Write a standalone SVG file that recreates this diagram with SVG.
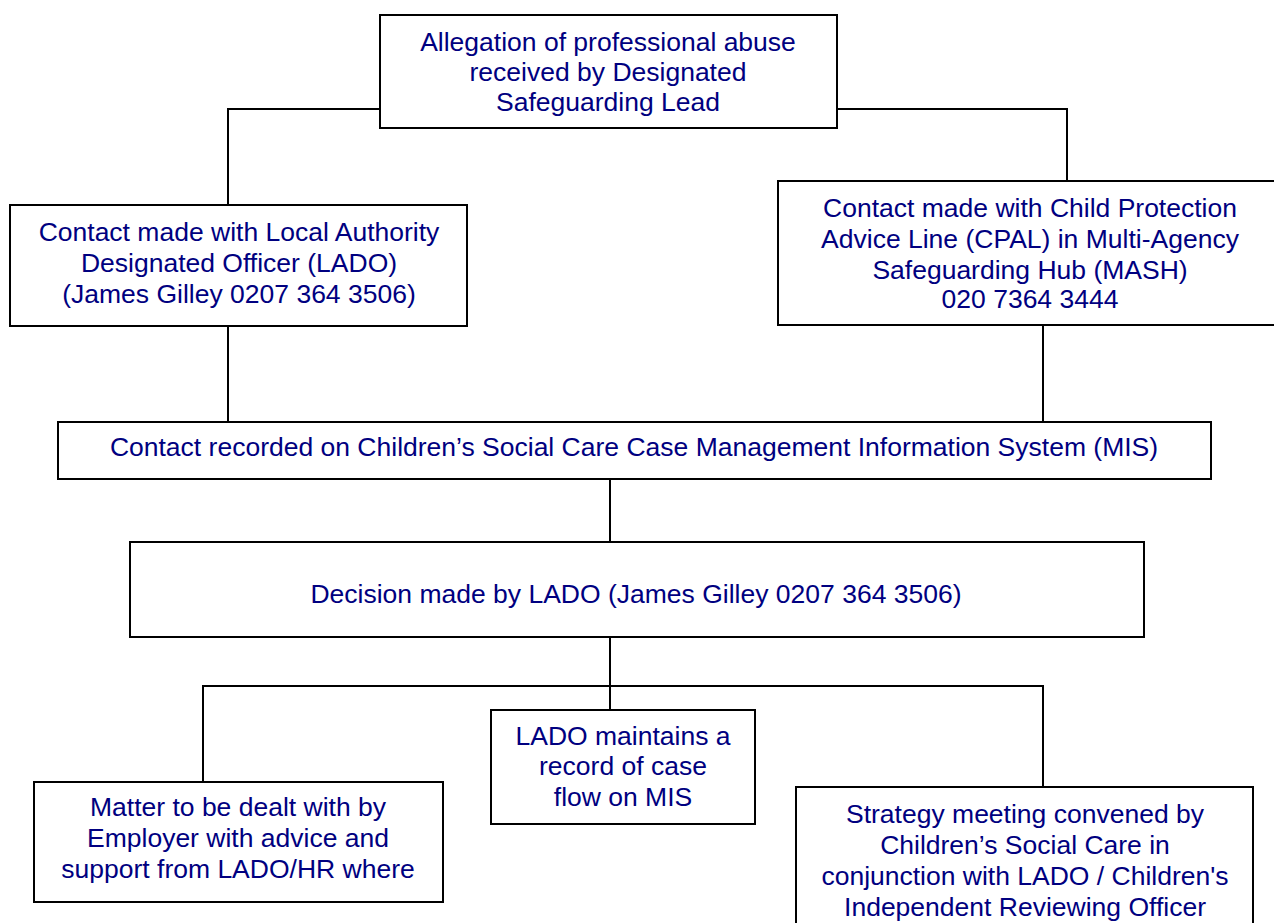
<svg xmlns="http://www.w3.org/2000/svg" width="1274" height="923" viewBox="0 0 1274 923">
<style>
.box{fill:#fff;stroke:#000;stroke-width:2}
.ln{fill:none;stroke:#000;stroke-width:2}
text{font-family:"Liberation Sans",Arial,sans-serif;font-size:26.5px;fill:#000080;text-anchor:middle}
</style>
<rect width="1274" height="923" fill="#fff"/>
<g id="connectors">
<polyline class="ln" points="380,109 228,109 228,205"/>
<polyline class="ln" points="837,109 1067,109 1067,181"/>
<line class="ln" x1="228" y1="326" x2="228" y2="422"/>
<line class="ln" x1="1043" y1="325" x2="1043" y2="422"/>
<line class="ln" x1="610" y1="479" x2="610" y2="542"/>
<line class="ln" x1="610" y1="637" x2="610" y2="710"/>
<polyline class="ln" points="203,782 203,686 1043,686 1043,787"/>
</g>
<g id="n1">
<rect class="box" x="380" y="15" width="457" height="113"/>
<text x="608" y="51">Allegation of professional abuse</text>
<text x="608" y="81">received by Designated</text>
<text x="608" y="111">Safeguarding Lead</text>
</g>
<g id="n2">
<rect class="box" x="10" y="205" width="457" height="121"/>
<text x="239" y="241">Contact made with Local Authority</text>
<text x="239" y="272">Designated Officer (LADO)</text>
<text x="239" y="303">(James Gilley 0207 364 3506)</text>
</g>
<g id="n3">
<rect class="box" x="778" y="181" width="510" height="144"/>
<text x="1030" y="217">Contact made with Child Protection</text>
<text x="1030" y="248">Advice Line (CPAL) in Multi-Agency</text>
<text x="1030" y="279">Safeguarding Hub (MASH)</text>
<text x="1030" y="308">020 7364 3444</text>
</g>
<g id="n4">
<rect class="box" x="58" y="422" width="1153" height="57"/>
<text x="634" y="456">Contact recorded on Children’s Social Care Case Management Information System (MIS)</text>
</g>
<g id="n5">
<rect class="box" x="130" y="542" width="1014" height="95"/>
<text x="636" y="603">Decision made by LADO (James Gilley 0207 364 3506)</text>
</g>
<g id="n6">
<rect class="box" x="34" y="782" width="409" height="120"/>
<text x="238" y="816">Matter to be dealt with by</text>
<text x="238" y="847">Employer with advice and</text>
<text x="238" y="878">support from LADO/HR where</text>
</g>
<g id="n7">
<rect class="box" x="491" y="710" width="264" height="114"/>
<text x="623" y="745">LADO maintains a</text>
<text x="623" y="775">record of case</text>
<text x="623" y="806">flow on MIS</text>
</g>
<g id="n8">
<rect class="box" x="796" y="787" width="457" height="150"/>
<text x="1025" y="823">Strategy meeting convened by</text>
<text x="1025" y="854">Children’s Social Care in</text>
<text x="1025" y="885">conjunction with LADO / Children's</text>
<text x="1025" y="916">Independent Reviewing Officer</text>
</g>
</svg>
